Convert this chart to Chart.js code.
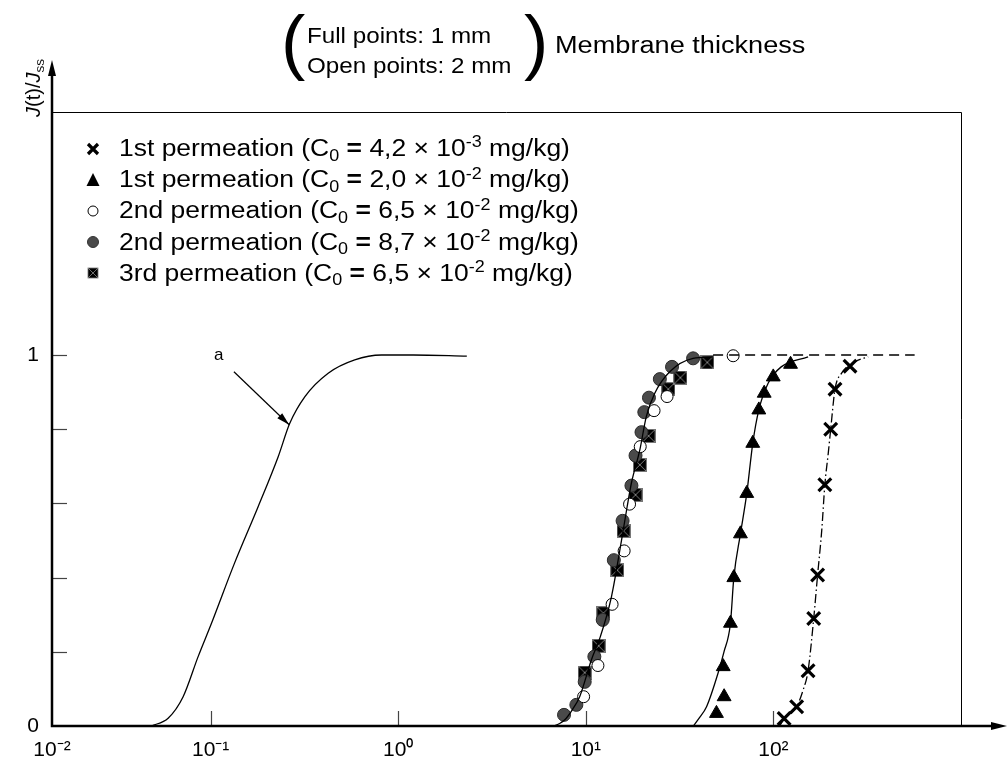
<!DOCTYPE html>
<html>
<head>
<meta charset="utf-8">
<script src="https://cdn.jsdelivr.net/npm/chart.js@4.4.1/dist/chart.umd.min.js"></script>
<style>
html,body{margin:0;padding:0;background:#fff;}
#wrap{position:relative;width:1007px;height:761px;overflow:hidden;font-family:"Liberation Sans",Arial,sans-serif;color:#000;}
#c{position:absolute;left:0;top:0;}
.ov{position:absolute;white-space:nowrap;line-height:1;}
.sx{transform-origin:0 50%;}
.lg{position:absolute;left:80px;top:133px;font-size:23px;}
.row{height:31.2px;line-height:31.2px;display:flex;align-items:center;white-space:nowrap;}
.row svg{width:26px;height:20px;margin-right:13px;flex:none;}
.row span{display:inline-block;transform:scaleX(1.15);transform-origin:0 50%;}
sub,sup{font-size:0.68em;line-height:0;position:relative;vertical-align:baseline;}
sub{top:0.3em;}
sup{top:-0.55em;}
b.eq{font-weight:bold;}
</style>
</head>
<body>
<div id="wrap">
<canvas id="c" width="1007" height="761"></canvas>

<div class="ov" style="left:281px;top:4px;font-size:73px;">(</div>
<div class="ov sx" style="left:307px;top:21px;font-size:22px;line-height:30px;transform:scaleX(1.1);">Full points: 1 mm<br>Open points: 2 mm</div>
<div class="ov" style="left:524px;top:4px;font-size:73px;">)</div>
<div class="ov sx" style="left:555px;top:34px;font-size:23px;transform:scaleX(1.18);">Membrane thickness</div>

<div class="ov" style="left:33px;top:88px;font-size:20px;transform:translate(-50%,-50%) rotate(-90deg);"><i>J</i>(t)/<i>J</i><sub>ss</sub></div>

<div class="ov" style="left:214px;top:346px;font-size:17px;font-family:'Liberation Sans Narrow','Liberation Sans',Arial,sans-serif;">a</div>

<div class="lg">
 <div class="row"><svg viewBox="0 0 26 20"><path d="M8 5 L18 15 M18 5 L8 15" stroke="#000" stroke-width="3.2"/></svg><span>1st permeation (C<sub>0</sub> <b class="eq">=</b> 4,2 × 10<sup>-3</sup> mg/kg)</span></div>
 <div class="row"><svg viewBox="0 0 26 20"><path d="M13 3 L19.5 16 L6.5 16 Z" fill="#000"/></svg><span>1st permeation (C<sub>0</sub> <b class="eq">=</b> 2,0 × 10<sup>-2</sup> mg/kg)</span></div>
 <div class="row"><svg viewBox="0 0 26 20"><circle cx="13" cy="10" r="5" fill="#fff" stroke="#000" stroke-width="1"/></svg><span>2nd permeation (C<sub>0</sub> <b class="eq">=</b> 6,5 × 10<sup>-2</sup> mg/kg)</span></div>
 <div class="row"><svg viewBox="0 0 26 20"><circle cx="13" cy="10" r="5.5" fill="#4a4a4a" stroke="#333" stroke-width="1"/></svg><span>2nd permeation (C<sub>0</sub> <b class="eq">=</b> 8,7 × 10<sup>-2</sup> mg/kg)</span></div>
 <div class="row"><svg viewBox="0 0 26 20"><rect x="8" y="5" width="10" height="10" fill="#000" stroke="#777" stroke-width="0.8"/><path d="M8 5 L18 15 M18 5 L8 15" stroke="#888" stroke-width="0.8"/></svg><span>3rd permeation (C<sub>0</sub> <b class="eq">=</b> 6,5 × 10<sup>-2</sup> mg/kg)</span></div>
</div>
</div>

<script>
// ---------- data ----------
const X_MIN = Math.pow(10, -1.846);   // left end of the axis, labelled 10^-2 in the original
const X_MAX = 1000;
const Y_MAX = 1.655;

const xTickValues = [X_MIN, 0.1, 1, 10, 100];
const xTickLabels = ['10\u207B\u00B2', '10\u207B\u00B9', '10\u2070', '10\u00B9', '10\u00B2'];
const yTickValues = [0, 0.2, 0.4, 0.6, 0.8, 1];
const yTickLabels = ['0', '', '', '', '', '1'];

// curve "a"
const curveA_x = [0.0483, 0.0593, 0.0713, 0.0857, 0.101, 0.134, 0.179, 0.229, 0.264, 0.318, 0.423, 0.586, 0.815, 1.2, 2.32];
const curveA_y = [0, 0.021, 0.079, 0.187, 0.277, 0.439, 0.591, 0.726, 0.816, 0.888, 0.951, 0.987, 1.0, 1.0, 0.997];

// fitted curve through the 2nd / 3rd permeation points
const curveC_x = [6.74, 7.2, 7.7, 8.5, 9.27, 10.7, 11.95, 13.7, 15.5, 16.6, 17.5, 19.4, 21.0, 23.3, 28.0, 37.3, 47.7];
const curveC_y = [0, 0.006, 0.016, 0.045, 0.079, 0.178, 0.241, 0.349, 0.501, 0.591, 0.655, 0.744, 0.834, 0.897, 0.955, 0.991, 0.995];

// steady state dashed line
const plateau_x = [47.7, 566];
const plateau_y = [1, 1];

// fitted curve through triangles
const curveT_x = [37.4, 40, 44, 50.7, 54.5, 59, 61.5, 66.7, 72.1, 77.6, 83.6, 93.7, 110, 153];
const curveT_y = [0, 0.02, 0.052, 0.143, 0.2, 0.277, 0.40, 0.518, 0.627, 0.762, 0.852, 0.924, 0.968, 0.995];

// fitted (dash-dot) curve through crosses
const curveX_x = [108, 114, 133, 144, 153, 164, 172, 181, 188, 196, 202, 213, 231, 272, 320];
const curveX_y = [0, 0.02, 0.052, 0.097, 0.149, 0.29, 0.407, 0.528, 0.65, 0.735, 0.80, 0.908, 0.951, 0.982, 0.995];

// 1st permeation, C0 = 4,2e-3 (crosses)
const cross_x = [114, 133, 153, 164, 172, 188, 202, 213, 256];
const cross_y = [0.02, 0.052, 0.149, 0.29, 0.407, 0.65, 0.80, 0.908, 0.97];

// 1st permeation, C0 = 2,0e-2 (triangles)
const tri_x = [49.7, 54.6, 54, 59, 61.5, 66.7, 72.1, 77.6, 83.6, 89.3, 99.8, 123.4];
const tri_y = [0.034, 0.079, 0.16, 0.277, 0.40, 0.518, 0.627, 0.762, 0.852, 0.897, 0.941, 0.975];

// 2nd permeation, C0 = 6,5e-2 (open circles)
const open_x = [9.73, 11.6, 13.8, 16.0, 17.1, 19.5, 23.1, 27.1, 61];
const open_y = [0.079, 0.163, 0.328, 0.472, 0.598, 0.753, 0.85, 0.888, 0.998];

// 2nd permeation, C0 = 8,7e-2 (full circles)
const full_x = [7.65, 8.9, 9.86, 11.1, 12.3, 14.1, 15.7, 17.5, 18.4, 19.8, 20.5, 21.7, 24.8, 28.8, 37.3];
const full_y = [0.03, 0.057, 0.119, 0.187, 0.286, 0.447, 0.553, 0.648, 0.729, 0.792, 0.846, 0.885, 0.935, 0.968, 0.991];

// 3rd permeation, C0 = 6,5e-2 (squares)
const sq_x = [9.86, 11.7, 12.4, 14.7, 15.9, 18.4, 19.4, 21.6, 27.5, 31.9, 44.4];
const sq_y = [0.144, 0.216, 0.304, 0.42, 0.526, 0.623, 0.704, 0.782, 0.908, 0.939, 0.98];

// ---------- helpers ----------
const pts = (xs, ys) => xs.map((x, i) => ({x: x, y: ys[i]}));

// square marker with a cross inside
const sqImg = document.createElement('canvas');
sqImg.width = 14; sqImg.height = 14;
(function(){
  const g = sqImg.getContext('2d');
  g.fillStyle = '#000'; g.fillRect(0.5, 0.5, 13, 13);
  g.strokeStyle = '#777'; g.lineWidth = 1;
  g.strokeRect(0.5, 0.5, 13, 13);
  g.strokeStyle = '#8a8a8a'; g.lineWidth = 0.9;
  g.beginPath(); g.moveTo(1, 1); g.lineTo(13, 13); g.moveTo(13, 1); g.lineTo(1, 13); g.stroke();
})();

const lineDS = (xs, ys, dash) => ({
  data: pts(xs, ys), showLine: true, pointRadius: 0, borderColor: '#000', borderWidth: 1.3,
  borderDash: dash || [], cubicInterpolationMode: 'monotone', fill: false
});

const frame = {
  id: 'frame',
  beforeDatasetsDraw(chart) {
    const {ctx, chartArea: a, scales: {x, y}} = chart;
    ctx.save();
    ctx.strokeStyle = '#000'; ctx.fillStyle = '#000';
    ctx.lineWidth = 1;
    ctx.beginPath();
    ctx.moveTo(a.left, a.top + 0.5); ctx.lineTo(a.right + 0.5, a.top + 0.5); ctx.lineTo(a.right + 0.5, a.bottom);
    ctx.stroke();
    ctx.strokeStyle = '#444'; ctx.lineWidth = 1.2;
    yTickValues.forEach(v => {
      if (v === 0) return;
      const py = Math.round(y.getPixelForValue(v)) + 0.5;
      ctx.beginPath(); ctx.moveTo(a.left, py); ctx.lineTo(a.left + 15, py); ctx.stroke();
    });
    xTickValues.forEach(v => {
      if (v === X_MIN) return;
      const px = Math.round(x.getPixelForValue(v)) + 0.5;
      ctx.beginPath(); ctx.moveTo(px, a.bottom); ctx.lineTo(px, a.bottom - 15); ctx.stroke();
    });
    ctx.restore();
  },
  afterDatasetsDraw(chart) {
    const {ctx, chartArea: a, scales: {x, y}} = chart;
    ctx.save();
    ctx.strokeStyle = '#000'; ctx.fillStyle = '#000';
    ctx.lineWidth = 2.5;
    ctx.beginPath();
    ctx.moveTo(a.left, 72); ctx.lineTo(a.left, a.bottom); ctx.lineTo(996, a.bottom);
    ctx.stroke();
    ctx.beginPath();
    ctx.moveTo(a.left, 60); ctx.lineTo(a.left - 4, 76); ctx.lineTo(a.left + 4, 76); ctx.closePath(); ctx.fill();
    ctx.beginPath();
    ctx.moveTo(1007, a.bottom); ctx.lineTo(991, a.bottom - 4); ctx.lineTo(991, a.bottom + 4); ctx.closePath(); ctx.fill();
    const x0 = x.getPixelForValue(0.133), y0 = y.getPixelForValue(0.955);
    const x1 = x.getPixelForValue(0.262), y1 = y.getPixelForValue(0.812);
    ctx.lineWidth = 1.2;
    ctx.beginPath(); ctx.moveTo(x0, y0); ctx.lineTo(x1, y1); ctx.stroke();
    const ang = Math.atan2(y1 - y0, x1 - x0), L = 13, W = 3.5;
    ctx.beginPath();
    ctx.moveTo(x1, y1);
    ctx.lineTo(x1 - L * Math.cos(ang) + W * Math.sin(ang), y1 - L * Math.sin(ang) - W * Math.cos(ang));
    ctx.lineTo(x1 - L * Math.cos(ang) - W * Math.sin(ang), y1 - L * Math.sin(ang) + W * Math.cos(ang));
    ctx.closePath(); ctx.fill();
    ctx.restore();
  }
};

const tickFont = {family: "'Liberation Sans Narrow','Liberation Sans',Arial,sans-serif", size: 21};

new Chart(document.getElementById('c'), {
  type: 'scatter',
  data: {
    datasets: [
      lineDS(curveA_x, curveA_y),
      lineDS(curveC_x, curveC_y),
      lineDS(plateau_x, plateau_y, [10, 6]),
      lineDS(curveT_x, curveT_y),
      lineDS(curveX_x, curveX_y, [9, 3, 1.5, 3]),
      {label: 'open', data: pts(open_x, open_y), pointStyle: 'circle', pointRadius: 6, backgroundColor: '#fff', borderColor: '#000', borderWidth: 1},
      {label: 'full', data: pts(full_x, full_y), pointStyle: 'circle', pointRadius: 6.5, backgroundColor: '#4a4a4a', borderColor: '#2a2a2a', borderWidth: 1},
      {label: 'square', data: pts(sq_x, sq_y), pointStyle: sqImg},
      {label: 'tri', data: pts(tri_x, tri_y), pointStyle: 'triangle', pointRadius: 8, backgroundColor: '#000', borderColor: '#000', borderWidth: 1},
      {label: 'cross', data: pts(cross_x, cross_y), pointStyle: 'crossRot', pointRadius: 9, borderColor: '#000', borderWidth: 3.2}
    ]
  },
  options: {
    responsive: false,
    animation: false,
    events: [],
    devicePixelRatio: 1,
    layout: {padding: {top: 112, right: 46, left: 0, bottom: 0}},
    plugins: {legend: {display: false}, tooltip: {enabled: false}, title: {display: false}},
    scales: {
      x: {
        type: 'logarithmic', min: X_MIN, max: X_MAX,
        grid: {display: false, drawTicks: false}, border: {display: false},
        afterBuildTicks: s => { s.ticks = xTickValues.map(v => ({value: v})); },
        afterFit: s => { s.height = 35; },
        ticks: {autoSkip: false, maxRotation: 0, padding: 12, color: '#000', font: tickFont,
                callback: (v, i) => xTickLabels[i]}
      },
      y: {
        type: 'linear', min: 0, max: Y_MAX,
        grid: {display: false, drawTicks: false}, border: {display: false},
        afterBuildTicks: s => { s.ticks = yTickValues.map(v => ({value: v})); },
        afterFit: s => { s.width = 52; },
        ticks: {autoSkip: false, padding: 13, color: '#000', font: tickFont,
                callback: (v, i) => yTickLabels[i]}
      }
    }
  },
  plugins: [frame]
});
</script>
</body>
</html>
